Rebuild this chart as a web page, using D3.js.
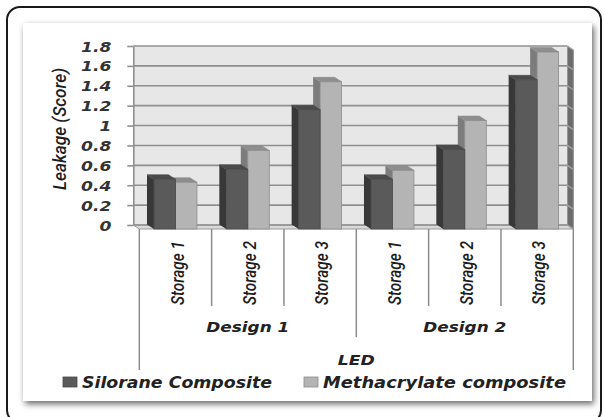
<!DOCTYPE html>
<html>
<head>
<meta charset="utf-8">
<script src="https://cdn.jsdelivr.net/npm/d3@7"></script>
<style>
  html, body { margin: 0; padding: 0; background: #fff; }
  svg { display: block; }
</style>
</head>
<body>
<svg id="chart" width="604" height="417"></svg>
<script>
// Leakage scores per storage group, for two designs cured with LED
const storages = ["Storage 1", "Storage 2", "Storage 3", "Storage 1", "Storage 2", "Storage 3"];
const designs = ["Design 1", "Design 2"];
const silorane = [0.5, 0.6, 1.2, 0.5, 0.8, 1.5];
const methacrylate = [0.47, 0.79, 1.48, 0.59, 1.09, 1.78];
const seriesNames = ["Silorane Composite", "Methacrylate composite"];
const yTicks = [0, 0.2, 0.4, 0.6, 0.8, 1, 1.2, 1.4, 1.6, 1.8];
const axisTitle = "Leakage (Score)";
const groupTitle = "LED";

const svg = d3.select("#chart");
const boldFont = "'DejaVu Sans', sans-serif";
const plainFont = "Roboto, 'Open Sans', sans-serif";

// widen glyphs horizontally by factor k
function stretch(sel, k) {
  sel.each(function () {
    const w = this.getComputedTextLength();
    this.setAttribute("textLength", w * k);
    this.setAttribute("lengthAdjust", "spacingAndGlyphs");
  });
}

// ---------- frame and panel ----------
const defs = svg.append("defs");
const sh = defs.append("filter").attr("id", "shadow")
  .attr("x", "-5%").attr("y", "-5%").attr("width", "110%").attr("height", "112%");
sh.append("feGaussianBlur").attr("in", "SourceAlpha").attr("stdDeviation", 3.2);
sh.append("feOffset").attr("dx", 1.5).attr("dy", 2.5).attr("result", "ob");
sh.append("feComponentTransfer").append("feFuncA").attr("type", "linear").attr("slope", 0.6);
const mg = sh.append("feMerge");
mg.append("feMergeNode");
mg.append("feMergeNode").attr("in", "SourceGraphic");

svg.append("rect")
  .attr("x", 7).attr("y", 7).attr("width", 594).attr("height", 416)
  .attr("rx", 13).attr("ry", 13)
  .attr("fill", "#fff").attr("stroke", "#1a1a1a").attr("stroke-width", 2);

svg.append("rect")
  .attr("x", 23).attr("y", 23).attr("width", 569).attr("height", 378)
  .attr("fill", "#fff").attr("filter", "url(#shadow)");

// ---------- scales ----------
const wallDx = 6, wallDy = 4;      // depth offset of the walls (back -> front)
const barDx = 7, barDy = 4.5;      // depth offset of bar side/top faces

const x = d3.scaleBand().domain(d3.range(storages.length)).range([139.3, 573.3]);
const yFront = d3.scaleLinear().domain([0, 1.8]).range([229, 50]);
const yBack = d3.scaleLinear().domain([0, 1.8]).range([229 - wallDy, 50 - wallDy]);

const wallL = x.range()[0] - wallDx, wallR = x.range()[1] - wallDx;

// ---------- walls ----------
const plot = svg.append("g");
// back wall
plot.append("rect")
  .attr("x", wallL).attr("y", yBack(1.8))
  .attr("width", wallR - wallL).attr("height", yBack(0) - yBack(1.8))
  .attr("fill", "#e7e7e7");
// right side wall
plot.append("polygon")
  .attr("points", [
    [wallR, yBack(1.8)], [wallR + wallDx, yFront(1.8)],
    [wallR + wallDx, yFront(0)], [wallR, yBack(0)]
  ].map(p => p.join(",")).join(" "))
  .attr("fill", "#6c6c6c");
// floor
plot.append("polygon")
  .attr("points", [
    [wallL, yBack(0)], [wallR, yBack(0)],
    [wallR + wallDx, yFront(0)], [wallL + wallDx, yFront(0)]
  ].map(p => p.join(",")).join(" "))
  .attr("fill", "#d9d9d9").attr("stroke", "#9a9a9a").attr("stroke-width", 1);

// gridlines on back wall and right wall
plot.selectAll("line.grid").data(yTicks).join("line")
  .attr("class", "grid")
  .attr("x1", wallL).attr("x2", wallR)
  .attr("y1", d => yBack(d)).attr("y2", d => yBack(d))
  .attr("stroke", "#8f8f8f").attr("stroke-width", 1.6);
plot.selectAll("line.sgrid").data(yTicks).join("line")
  .attr("class", "sgrid")
  .attr("x1", wallR).attr("x2", wallR + wallDx)
  .attr("y1", d => yBack(d)).attr("y2", d => yFront(d))
  .attr("stroke", "#a0a0a0").attr("stroke-width", 1.4);
plot.append("line")
  .attr("x1", wallR + wallDx).attr("x2", wallR + wallDx)
  .attr("y1", yFront(1.8)).attr("y2", yFront(0))
  .attr("stroke", "#8a8a8a").attr("stroke-width", 1);

// ---------- y axis ----------
const yAxis = d3.axisLeft(yBack).tickValues(yTicks).tickFormat(d => String(d))
  .tickSize(6).tickSizeOuter(0).tickPadding(16);
const ax = svg.append("g").attr("transform", `translate(${wallL},0)`).call(yAxis);
ax.select(".domain").attr("stroke", "#8f8f8f").attr("stroke-width", 1.6);
ax.selectAll(".tick line").attr("stroke", "#8f8f8f").attr("stroke-width", 1.6);
const yl = ax.selectAll(".tick text")
  .attr("fill", "#333").attr("font-family", boldFont).attr("font-size", 14)
  .attr("font-weight", "bold").attr("font-style", "italic")
  .attr("dy", "0.36em");
stretch(yl, 1.22);

svg.append("text")
  .attr("transform", "translate(60,129) rotate(-90)")
  .attr("text-anchor", "middle").attr("dy", "0.35em")
  .attr("font-family", plainFont).attr("font-style", "italic").attr("font-weight", 500)
  .attr("font-size", 18).attr("fill", "#1e1e1e")
  .attr("textLength", 122).attr("lengthAdjust", "spacingAndGlyphs")
  .text(axisTitle);

// ---------- bars ----------
const barW = x.bandwidth() * 0.297;
const colors = {
  dark: { front: "#5a5a5a", side: "#383838", top: "#4b4b4b", stroke: "#4a4a4a" },
  light: { front: "#b4b4b4", side: "#7c7c7c", top: "#8e8e8e", stroke: "#8c8c8c" }
};

function drawBar(g, x0, v, c) {
  const x1 = x0 + barW;
  const yt = yFront(v), yb = yFront(0);
  g.append("polygon")
    .attr("points", [[x0, yt], [x0 - barDx, yt - barDy], [x0 - barDx, yb - barDy], [x0, yb]]
      .map(p => p.join(",")).join(" "))
    .attr("fill", c.side);
  g.append("polygon")
    .attr("points", [[x0, yt], [x1, yt], [x1 - barDx, yt - barDy], [x0 - barDx, yt - barDy]]
      .map(p => p.join(",")).join(" "))
    .attr("fill", c.top).attr("stroke", c.stroke).attr("stroke-width", 0.6);
  g.append("rect")
    .attr("x", x0).attr("y", yt).attr("width", barW).attr("height", yb - yt)
    .attr("fill", c.front).attr("stroke", c.stroke).attr("stroke-width", 0.8);
}

const bars = svg.append("g");
storages.forEach((s, i) => {
  const cx = x(i) + x.bandwidth() / 2;
  const g = bars.append("g");
  drawBar(g, cx, methacrylate[i], colors.light);
  drawBar(g, cx - barW, silorane[i], colors.dark);
});

// ---------- category axis (multi-level) ----------
const lineCol = "#8c8c8c";
const cat = svg.append("g");
const yAx = yFront(0);
const bounds = d3.range(storages.length + 1).map(i => x.range()[0] + i * x.step());
bounds.forEach((b, i) => {
  let yEnd = 306;
  if (i === 0 || i === storages.length) yEnd = 370;
  else if (i === 3) yEnd = 337;
  cat.append("line")
    .attr("x1", b).attr("x2", b).attr("y1", yAx).attr("y2", yEnd)
    .attr("stroke", lineCol).attr("stroke-width", 1.5);
});

cat.selectAll("text.storage").data(storages).join("text")
  .attr("class", "storage")
  .attr("transform", (d, i) => `translate(${x(i) + x.bandwidth() / 2 + 2},241) rotate(-90)`)
  .attr("text-anchor", "end").attr("dy", "0.35em")
  .attr("font-family", plainFont).attr("font-style", "italic").attr("font-weight", 500)
  .attr("font-size", 18).attr("fill", "#1e1e1e")
  .attr("textLength", 64).attr("lengthAdjust", "spacingAndGlyphs")
  .text(d => d);

cat.selectAll("text.design").data(designs).join("text")
  .attr("class", "design")
  .attr("x", (d, i) => (bounds[i * 3] + bounds[i * 3 + 3]) / 2)
  .attr("y", 332)
  .attr("text-anchor", "middle")
  .attr("font-family", boldFont).attr("font-weight", "bold").attr("font-style", "italic")
  .attr("font-size", 14).attr("fill", "#222")
  .attr("textLength", 83).attr("lengthAdjust", "spacingAndGlyphs")
  .text(d => d);

cat.append("text")
  .attr("x", (bounds[0] + bounds[6]) / 2).attr("y", 365)
  .attr("text-anchor", "middle")
  .attr("font-family", boldFont).attr("font-weight", "bold").attr("font-style", "italic")
  .attr("font-size", 14).attr("fill", "#222")
  .attr("textLength", 37).attr("lengthAdjust", "spacingAndGlyphs")
  .text(groupTitle);

// ---------- legend ----------
const legend = svg.append("g");
const legendItems = [
  { name: seriesNames[0], c: colors.dark, x: 63, w: 190 },
  { name: seriesNames[1], c: colors.light, x: 304, w: 243 }
];
legendItems.forEach(it => {
  legend.append("rect")
    .attr("x", it.x).attr("y", 377).attr("width", 14).attr("height", 10)
    .attr("fill", it.c.front).attr("stroke", it.c.stroke).attr("stroke-width", 0.8);
  legend.append("text")
    .attr("x", it.x + 19).attr("y", 387.5)
    .attr("font-family", boldFont).attr("font-weight", "bold").attr("font-style", "italic")
    .attr("font-size", 15).attr("fill", "#222")
    .attr("textLength", it.w).attr("lengthAdjust", "spacingAndGlyphs")
    .text(it.name);
});
</script>
</body>
</html>
